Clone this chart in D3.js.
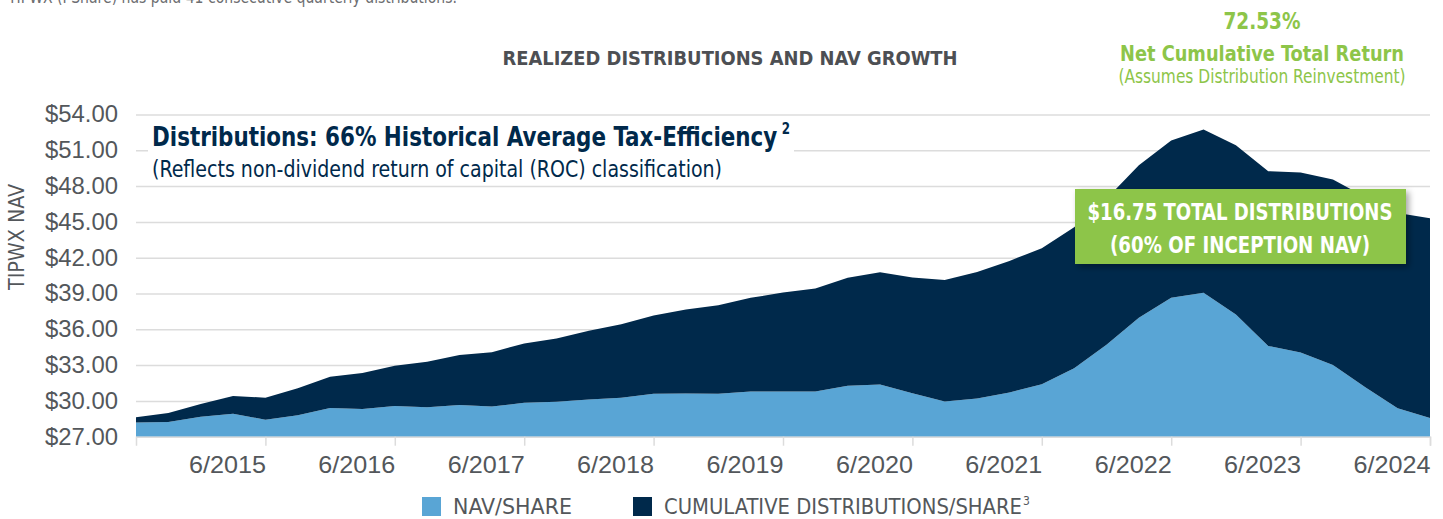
<!DOCTYPE html>
<html>
<head>
<meta charset="utf-8">
<script src="https://cdn.jsdelivr.net/npm/d3@7"></script>
<style>
  body { margin: 0; background: #fff; }
  svg { display: block; }
  text { font-family: "Liberation Sans Narrow", "DejaVu Sans Condensed", "Liberation Sans", sans-serif; }
</style>
</head>
<body>
<svg id="chart"></svg>
<script>
// quarterly data, 6/2014 .. 6/2024
const quarters = [
  "6/2014", "9/2014", "12/2014", "3/2015", "6/2015", "9/2015", "12/2015", "3/2016",
  "6/2016", "9/2016", "12/2016", "3/2017", "6/2017", "9/2017", "12/2017", "3/2018",
  "6/2018", "9/2018", "12/2018", "3/2019", "6/2019", "9/2019", "12/2019", "3/2020",
  "6/2020", "9/2020", "12/2020", "3/2021", "6/2021", "9/2021", "12/2021", "3/2022",
  "6/2022", "9/2022", "12/2022", "3/2023", "6/2023", "9/2023", "12/2023", "3/2024",
  "6/2024"
];

const navShare = [
  28.20, 28.23, 28.68, 28.93, 28.42, 28.79, 29.40, 29.32,
  29.57, 29.46, 29.65, 29.53, 29.84, 29.92, 30.12, 30.26,
  30.59, 30.62, 30.59, 30.79, 30.79, 30.78, 31.26, 31.37,
  30.64, 29.94, 30.20, 30.70, 31.40, 32.74, 34.70, 36.97,
  38.64, 39.06, 37.25, 34.61, 34.06, 33.00, 31.14, 29.39,
  28.56
];

const cumDistShare = [
  0.42, 0.75, 1.06, 1.48, 1.85, 2.26, 2.63, 3.02,
  3.38, 3.82, 4.20, 4.55, 4.97, 5.31, 5.75, 6.17,
  6.57, 7.04, 7.43, 7.85, 8.29, 8.63, 9.05, 9.41,
  9.70, 10.20, 10.61, 11.03, 11.39, 11.81, 12.25, 12.78,
  13.19, 13.69, 14.17, 14.64, 15.08, 15.56, 15.95, 16.35,
  16.75
];

const xTickLabels = ["6/2015", "6/2016", "6/2017", "6/2018", "6/2019",
  "6/2020", "6/2021", "6/2022", "6/2023", "6/2024"];
const yTicks = [27, 30, 33, 36, 39, 42, 45, 48, 51, 54];

const navy = "#00294b";
const lightBlue = "#59a5d5";
const green = "#8dc549";
const gray = "#53575b";

const width = 1443;
const height = 519;

const svg = d3.select("#chart")
  .attr("width", width)
  .attr("height", height);

// squeeze a text to the width it has in the original
function fit(sel, w) {
  sel.attr("textLength", w).attr("lengthAdjust", "spacingAndGlyphs");
  return sel;
}

const x = d3.scalePoint()
  .domain(quarters)
  .range([136, 1430]);

const y = d3.scaleLinear()
  .domain([27, 54])
  .range([436.7, 114.5]);

// gridlines
svg.append("g")
  .attr("transform", "translate(136,0)")
  .call(d3.axisLeft(y).tickValues(yTicks).tickSize(-(1430 - 136)).tickFormat(""))
  .call(g => g.select(".domain").remove())
  .call(g => g.selectAll("line").attr("stroke", "#dcdcdc").attr("stroke-width", 1.5));

// stacked areas
const rows = quarters.map((q, i) => ({ q: q, nav: navShare[i], dist: cumDistShare[i] }));
const series = d3.stack().keys(["nav", "dist"])(rows);

const area = d3.area()
  .x(d => x(d.data.q))
  .y0(d => y(Math.max(d[0], 27)))
  .y1(d => y(d[1]));

svg.selectAll(".area")
  .data(series)
  .enter()
  .append("path")
  .attr("class", "area")
  .attr("d", area)
  .attr("fill", (d, i) => i === 0 ? lightBlue : navy);

// x axis
const xAxis = svg.append("g")
  .attr("transform", `translate(0,${y(27)})`)
  .call(d3.axisBottom(x).tickValues(xTickLabels).tickSize(9).tickPadding(10))
  .call(g => g.select(".domain").attr("stroke", "#dcdcdc").attr("stroke-width", 1.5));
xAxis.selectAll("line").attr("stroke", "#dcdcdc").attr("stroke-width", 1.5);
xAxis.selectAll("text")
  .attr("text-anchor", "end")
  .attr("fill", gray)
  .style("font-family", "'Liberation Sans', sans-serif")
  .style("font-size", "24px")
  .attr("textLength", 77)
  .attr("lengthAdjust", "spacingAndGlyphs");

// y axis labels
const yAxis = svg.append("g")
  .attr("transform", "translate(118,0)")
  .call(d3.axisLeft(y).tickValues(yTicks).tickSize(0).tickPadding(0).tickFormat(d => "$" + d.toFixed(2)))
  .call(g => g.select(".domain").remove());
yAxis.selectAll("text")
  .attr("fill", gray)
  .style("font-family", "'Liberation Sans', sans-serif")
  .style("font-size", "23px")
  .attr("textLength", 73)
  .attr("lengthAdjust", "spacingAndGlyphs");

fit(svg.append("text")
  .attr("transform", "translate(24,237) rotate(-90)")
  .attr("text-anchor", "middle")
  .attr("fill", gray)
  .style("font-size", "21px")
  .text("TIPWX NAV"), 106);

// clipped intro line at very top
fit(svg.append("text")
  .attr("x", 8)
  .attr("y", 3)
  .attr("fill", "#6d6e71")
  .style("font-size", "18px")
  .text("TIPWX (I Share) has paid 41 consecutive quarterly distributions."), 449);

// title
fit(svg.append("text")
  .attr("x", 730)
  .attr("y", 65)
  .attr("text-anchor", "middle")
  .attr("fill", "#4d4f53")
  .style("font-size", "20px")
  .style("font-weight", "bold")
  .text("REALIZED DISTRIBUTIONS AND NAV GROWTH"), 455);

// top right callout
const tr = svg.append("g").attr("fill", green).attr("text-anchor", "middle");
fit(tr.append("text").attr("x", 1262).attr("y", 29)
  .style("font-size", "23px").style("font-weight", "bold").text("72.53%"), 77);
fit(tr.append("text").attr("x", 1262).attr("y", 61)
  .style("font-size", "22px").style("font-weight", "bold").text("Net Cumulative Total Return"), 284);
fit(tr.append("text").attr("x", 1262).attr("y", 83)
  .style("font-size", "19px").text("(Assumes Distribution Reinvestment)"), 287);

// tax-efficiency note
svg.append("rect")
  .attr("x", 148).attr("y", 120).attr("width", 646).attr("height", 62)
  .attr("fill", "#fff");
const note = fit(svg.append("text")
  .attr("x", 152)
  .attr("y", 146)
  .attr("fill", navy)
  .style("font-size", "27px")
  .style("font-weight", "bold"), 638);
note.append("tspan").text("Distributions: 66% Historical Average Tax-Efficiency");
note.append("tspan").attr("dx", 5).attr("dy", -12).style("font-size", "15px").text("2");
fit(svg.append("text")
  .attr("x", 152)
  .attr("y", 177)
  .attr("fill", navy)
  .style("font-size", "23px")
  .text("(Reflects non-dividend return of capital (ROC) classification)"), 570);

// green distributions box
const defs = svg.append("defs");
const f = defs.append("filter").attr("id", "shadow")
  .attr("x", "-10%").attr("y", "-10%").attr("width", "130%").attr("height", "140%");
f.append("feDropShadow").attr("dx", 3).attr("dy", 3).attr("stdDeviation", 3)
  .attr("flood-color", "#000").attr("flood-opacity", 0.35);

svg.append("rect")
  .attr("x", 1075).attr("y", 189).attr("width", 331).attr("height", 75)
  .attr("fill", green)
  .attr("filter", "url(#shadow)");
const boxText = svg.append("g").attr("fill", "#fff").attr("text-anchor", "middle")
  .style("font-size", "23px").style("font-weight", "bold");
fit(boxText.append("text").attr("x", 1240).attr("y", 220).text("$16.75 TOTAL DISTRIBUTIONS"), 305);
fit(boxText.append("text").attr("x", 1240).attr("y", 253).text("(60% OF INCEPTION NAV)"), 260);

// legend
const legend = [
  { label: "NAV/SHARE", color: lightBlue, x: 422, w: 119 },
  { label: "CUMULATIVE DISTRIBUTIONS/SHARE", color: navy, x: 633, w: 358 }
];
const lg = svg.selectAll(".legend")
  .data(legend)
  .enter()
  .append("g")
  .attr("class", "legend");
lg.append("rect")
  .attr("x", d => d.x).attr("y", 497).attr("width", 19).attr("height", 19)
  .attr("fill", d => d.color);
lg.append("text")
  .attr("x", d => d.x + 31)
  .attr("y", 514)
  .attr("fill", gray)
  .style("font-size", "22px")
  .attr("textLength", d => d.w)
  .attr("lengthAdjust", "spacingAndGlyphs")
  .text(d => d.label);
svg.append("text")
  .attr("x", 633 + 31 + 358 + 1)
  .attr("y", 505)
  .attr("fill", gray)
  .style("font-size", "12px")
  .text("3");
</script>
</body>
</html>
